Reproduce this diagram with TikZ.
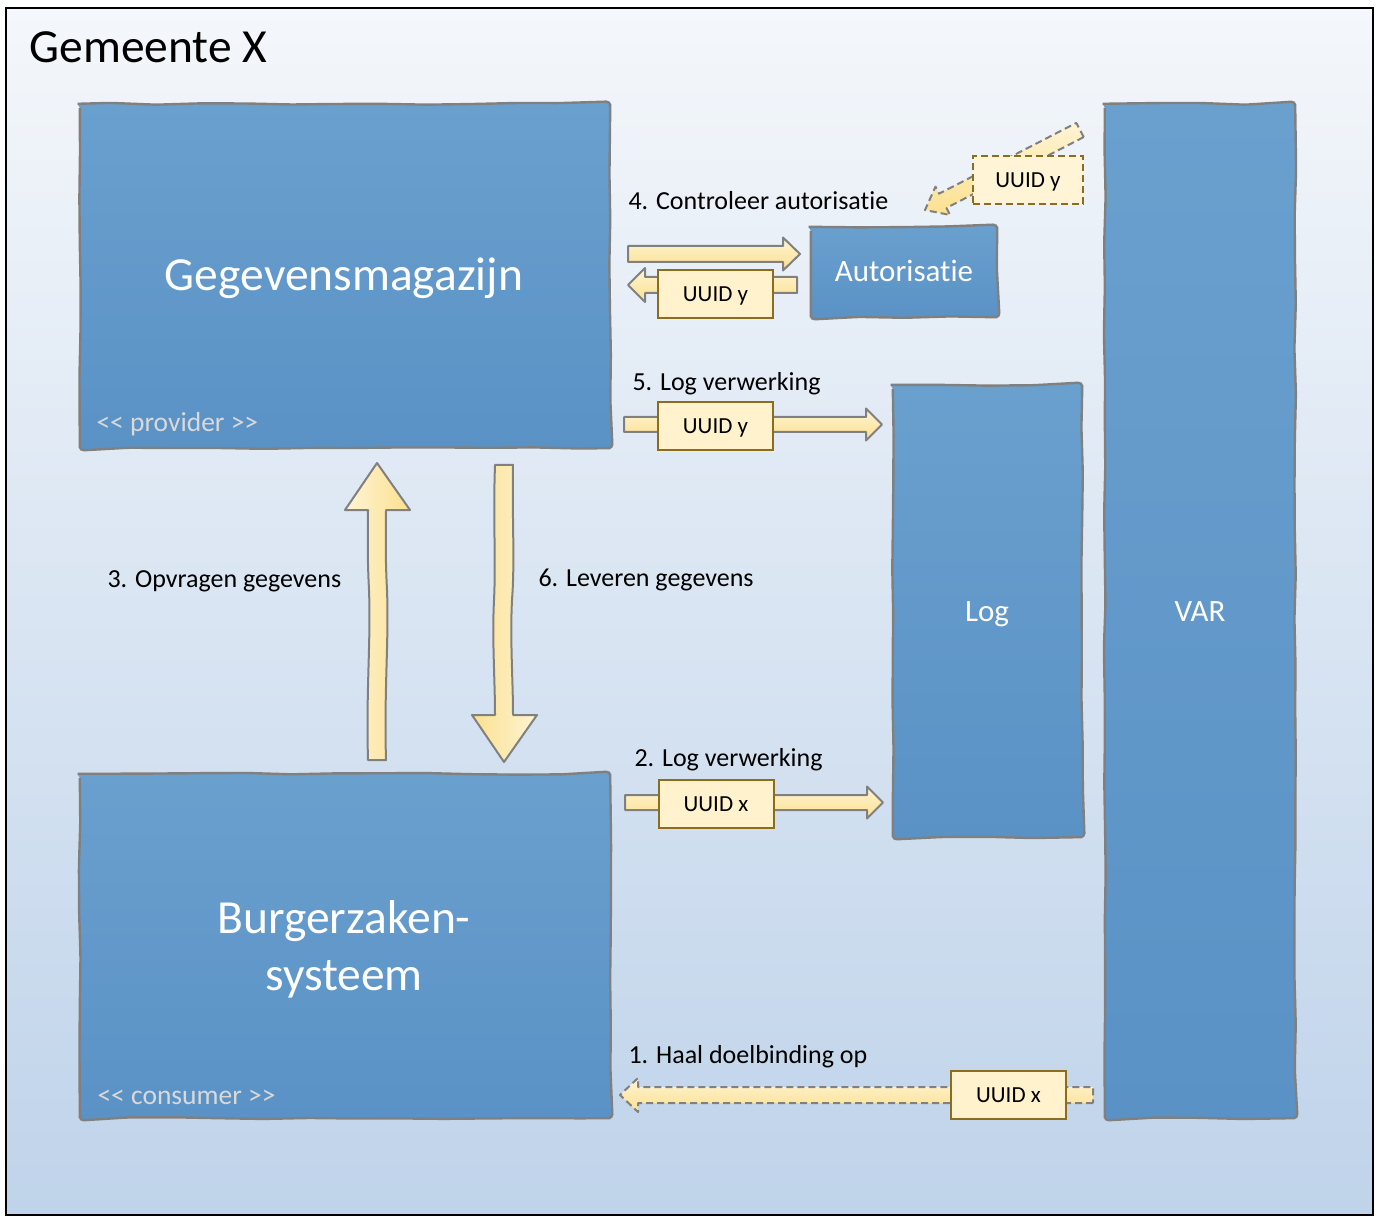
\documentclass[tikz,border=0pt]{standalone}
\usepackage{fontspec}
\setmainfont{Carlito}[Ligatures={NoCommon}]
\usetikzlibrary{calc,decorations.pathmorphing}
\pgfdeclarelayer{back}
\pgfdeclarelayer{bg}
\pgfsetlayers{back,bg,main}
\definecolor{boxtop}{HTML}{6AA0CE}
\definecolor{boxbot}{HTML}{5A92C6}
\definecolor{edgegrey}{HTML}{808080}
\definecolor{uuidfill}{HTML}{FFF2CC}
\definecolor{uuidedge}{HTML}{8C6D1F}
\definecolor{arrA}{HTML}{FFF4D4}
\definecolor{arrB}{HTML}{FBE08F}
\definecolor{bgtop}{HTML}{F4F7FB}
\definecolor{bgbot}{HTML}{BFD3EA}
\definecolor{stereo}{HTML}{D9D9D9}
\newcommand\hblock[6]{\path[#1] ($(#2)+(0,#4)$) -- ($(#3)+({-(#6)},#4)$) -- ($(#3)+({-(#6)},#5)$) -- (#3) -- ($(#3)+({-(#6)},{-(#5)})$) -- ($(#3)+({-(#6)},{-(#4)})$) -- ($(#2)+(0,{-(#4)})$) -- cycle;}
\tikzset{
  sysnode/.style={draw=none, inner sep=0pt},
  sysbox/.style={draw=edgegrey, line width=2.4pt, top color=boxtop, bottom color=boxbot,
     decorate, decoration={random steps, segment length=45pt, amplitude=0.9pt}, rounded corners=4pt},
  bigtext/.style={text=white, font=\fontsize{47.5}{57}\selectfont},
  midtext/.style={text=white, font=\fontsize{31}{36}\selectfont},
  stereotext/.style={text=stereo, font=\fontsize{27.5}{32}\selectfont, anchor=base west},
  lbl/.style={text=black, font=\fontsize{26}{31}\selectfont, anchor=base west},
  uuid/.style={draw=uuidedge, line width=2pt, fill=uuidfill, minimum width=115pt, minimum height=48pt,
     inner sep=0pt, font=\fontsize{23}{27}\selectfont, text height=15pt, text depth=0pt},
  uuiddash/.style={uuid, dash pattern=on 7pt off 4pt, fill=uuidfill!80!white, minimum width=110pt},
  harrow/.style={draw=edgegrey, line width=2pt, top color=arrA, bottom color=arrB, line join=round},
  harrowdash/.style={harrow, dash pattern=on 7pt off 4pt},
  varrowL/.style={draw=edgegrey, line width=2pt, left color=arrA, right color=arrB, line join=round},
  varrowR/.style={draw=edgegrey, line width=2pt, left color=arrB, right color=arrA, line join=round},
}
\pgfmathsetseed{7}
\begin{document}
\begin{tikzpicture}[x=1pt,y=-1pt]
\useasboundingbox (0,0) rectangle (1382,1222);
\begin{pgfonlayer}{back}
  \fill[white] (0,0) rectangle (1382,1222);
  \path[top color=bgtop, bottom color=bgbot] (6,8) rectangle (1373,1215);
  \draw[black, line width=2.5pt] (6,8) rectangle (1373,1215);
\end{pgfonlayer}

\node[lbl, font=\fontsize{47.5}{55}\selectfont] (title) at (26,63) {Gemeente X};

% system boxes
\node[sysnode, minimum width=530pt, minimum height=344pt] (gm) at (345,276) {};
\node[sysnode, minimum width=530pt, minimum height=344pt] (bz) at (345,946) {};
\node[sysnode, minimum width=186pt, minimum height=90pt] (aut) at (904,272) {};
\node[sysnode, minimum width=189pt, minimum height=452pt] (log) at (987.5,611) {};
\node[sysnode, minimum width=190pt, minimum height=1014pt] (var) at (1200,611) {};
\begin{pgfonlayer}{bg}
  \path[sysbox] (gm.north west) rectangle (gm.south east);
  \path[sysbox] (bz.north west) rectangle (bz.south east);
  \path[sysbox] (aut.north west) rectangle (aut.south east);
  \path[sysbox] (log.north west) rectangle (log.south east);
  \path[sysbox] (var.north west) rectangle (var.south east);
\end{pgfonlayer}
\node[bigtext, anchor=base] (gmtext) at (344,291) {Gegevensmagazijn};
\node[bigtext, anchor=base] (bztext1) at (344,933) {Burgerzaken-};
\node[bigtext, anchor=base] (bztext2) at (344,990) {systeem};
\node[midtext, anchor=base] (auttext) at (904,282) {Autorisatie};
\node[midtext, anchor=base] (logtext) at (987,621) {Log};
\node[midtext, anchor=base] (vartext) at (1200,621) {VAR};
\node[stereotext] (prov) at (93,432) {<{}< provider >{}>};
\node[stereotext] (cons) at (94,1104) {<{}< consumer >{}>};

% labels
\node[lbl] (l4) at (625,210) {4. Controleer autorisatie};
\node[lbl] (l5) at (629,391) {5. Log verwerking};
\node[lbl] (l3) at (104,587) {3. Opvragen gegevens};
\node[lbl] (l6) at (535,586) {6. Leveren gegevens};
\node[lbl] (l2) at (631,766) {2. Log verwerking};
\node[lbl] (l1) at (625,1063) {1. Haal doelbinding op};

% arrow end points
\coordinate (a4s) at (628,254);   \coordinate (a4t) at (800,254);
\coordinate (a4rs) at (797,285);  \coordinate (a4rt) at (628,285);
\coordinate (a5s) at (624,424.5); \coordinate (a5t) at (882,424.5);
\coordinate (a2s) at (625,802.5); \coordinate (a2t) at (883,802.5);
\coordinate (a1s) at (1093,1095); \coordinate (a1t) at (620,1095);

\hblock{harrow}{a4s}{a4t}{8}{16.5}{17}
\hblock{harrow}{a4rs}{a4rt}{8}{17}{-17}
\hblock{harrow}{a5s}{a5t}{7.5}{16}{16}
\hblock{harrow}{a2s}{a2t}{7.5}{16}{16}
\hblock{harrowdash}{a1s}{a1t}{8}{17}{-18}

% diagonal dashed arrow from VAR to Autorisatie
\path[harrowdash] (1083.7,137.1) -- (946.5,207.9) -- (950.1,215.0) -- (925,210) -- (935.5,186.6) -- (939.1,193.7) -- (1076.3,122.9) -- cycle;

% 3. up arrow
\path[varrowL] (368,760) .. controls (366,690) and (371,640) .. (369,590) .. controls (367,550) and (368,530) .. (368,510)
   -- (345,510) -- (377,463) -- (410,510) -- (386,510) .. controls (386,530) and (385,550) .. (387,590)
   .. controls (389,640) and (384,690) .. (386,760) -- cycle;
% 6. down arrow
\path[varrowR] (495,465) -- (513,465) .. controls (512,520) and (515,560) .. (512,600) .. controls (510,640) and (513,680) .. (513,715)
   -- (537,715) -- (504,762) -- (472,715) -- (495,715) .. controls (495,680) and (492,640) .. (494,600)
   .. controls (496,560) and (493,520) .. (495,465) -- cycle;

% UUID boxes
\node[uuiddash] (ud) at (1028,180) {UUID y};
\node[uuid] (u4) at (715.5,294) {UUID y};
\node[uuid] (u5) at (715.5,426) {UUID y};
\node[uuid] (u2) at (716,804) {UUID x};
\node[uuid] (u1) at (1008.5,1094.5) {UUID x};
\end{tikzpicture}
\end{document}
